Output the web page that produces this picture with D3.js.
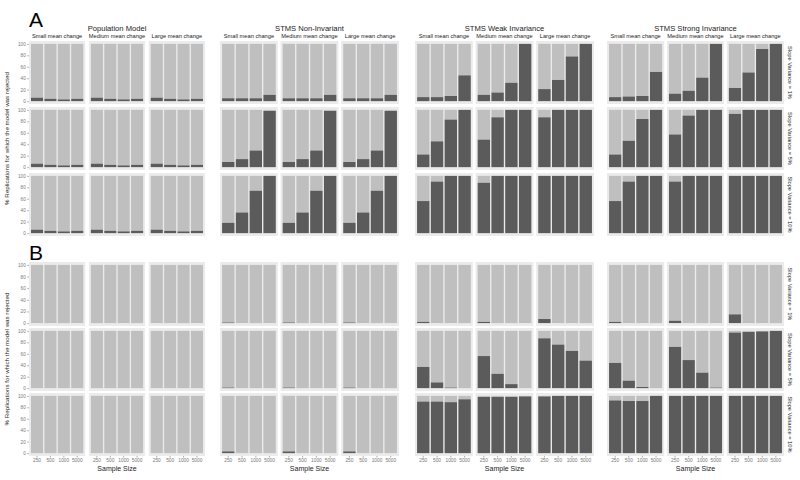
<!DOCTYPE html>
<html>
<head>
<meta charset="utf-8">
<script src="https://cdn.jsdelivr.net/npm/d3@7"></script>
<style>
  html, body { margin: 0; padding: 0; background: #fff; }
  svg { display: block; font-family: "Liberation Sans", Arial, sans-serif; }
</style>
</head>
<body>
<svg id="chart" width="800" height="480"></svg>
<script>
// ---------------- DATA ----------------
const models = ["Population Model", "STMS Non-Invariant", "STMS Weak Invariance", "STMS Strong Invariance"];
const meanChanges = ["Small mean change", "Medium mean change", "Large mean change"];
const slopeVars = ["Slope Variance = 1%", "Slope Variance = 5%", "Slope Variance = 10%"];
const sampleSizes = ["250", "500", "1000", "5000"];
const yTicks = [0, 20, 40, 60, 80, 100];
const panelLabels = ["A", "B"];

// % rejected: [slope variance row][mean change][sample size]
const popA = [
  [[6, 4, 3, 4], [6, 4, 3, 4], [6, 4, 3, 4]],
  [[6, 4, 3, 4], [6, 4, 3, 4], [6, 4, 3, 4]],
  [[6, 4, 3, 4], [6, 4, 3, 4], [6, 4, 3, 4]]
];
const nonInvA = [
  [[5, 5, 5, 11], [5, 5, 5, 11], [5, 5, 5, 11]],
  [[9, 14, 29, 98], [9, 14, 29, 98], [9, 14, 29, 98]],
  [[18, 36, 74, 100], [18, 36, 74, 100], [18, 36, 74, 100]]
];
const weakA = [
  [[7, 7, 9, 45], [11, 15, 32, 100], [21, 37, 78, 100]],
  [[22, 45, 83, 100], [48, 87, 100, 100], [87, 100, 100, 100]],
  [[56, 90, 100, 100], [88, 100, 100, 100], [100, 100, 100, 100]]
];
const strongA = [
  [[7, 8, 9, 51], [13, 18, 41, 100], [23, 50, 91, 100]],
  [[22, 46, 84, 100], [57, 90, 100, 100], [93, 100, 100, 100]],
  [[56, 90, 100, 100], [90, 100, 100, 100], [100, 100, 100, 100]]
];
const popB = [
  [[0, 0, 0, 0], [0, 0, 0, 0], [0, 0, 0, 0]],
  [[0, 0, 0, 0], [0, 0, 0, 0], [0, 0, 0, 0]],
  [[0, 0, 0, 0], [0, 0, 0, 0], [0, 0, 0, 0]]
];
const nonInvB = [
  [[1, 0, 0, 0], [1, 0, 0, 0], [1, 0, 0, 0]],
  [[1, 0, 0, 0], [1, 0, 0, 0], [1, 0, 0, 0]],
  [[3, 0, 0, 0], [3, 0, 0, 0], [3, 0, 0, 0]]
];
const weakB = [
  [[2, 0, 0, 0], [2, 0, 0, 0], [7, 0, 0, 0]],
  [[37, 10, 1, 0], [56, 25, 7, 0], [87, 76, 65, 48]],
  [[90, 90, 89, 94], [98, 98, 98, 99], [99, 100, 100, 100]]
];
const strongB = [
  [[2, 0, 0, 0], [4, 0, 0, 0], [15, 0, 0, 0]],
  [[44, 13, 2, 0], [72, 49, 27, 1], [97, 98, 99, 100]],
  [[92, 91, 91, 100], [100, 100, 100, 100], [100, 100, 100, 100]]
];
const panelData = [[popA, nonInvA, weakA, strongA], [popB, nonInvB, weakB, strongB]];

// ---------------- LAYOUT ----------------
const svg = d3.select("#chart");
const groupX = [[29, 205], [220, 399], [415, 594], [607, 784]];
const groupPad = [0.06, 0.045, 0.045, 0.045];
const panelRows = [
  [[41, 104], [107, 170], [173, 236]],
  [[262, 326], [328, 391], [393, 456]]
];
const colBg = "#ebebeb", colLight = "#bfbfbf", colDark = "#5b5b5b";

panelData.forEach((pd, p) => {
  const rows = panelRows[p];
  svg.append("text").attr("x", 29).attr("y", p === 0 ? 27 : 260)
    .attr("font-size", 21).attr("fill", "#000").text(panelLabels[p]);
  const cy = (rows[0][0] + rows[2][1]) / 2;
  svg.append("text").attr("transform", `translate(9,${cy}) rotate(-90)`)
    .attr("text-anchor", "middle").attr("font-size", 6.2).attr("fill", "#222")
    .text("% Replications for which the model was rejected");

  models.forEach((m, g) => {
    const xCell = d3.scaleBand().domain(meanChanges).range(groupX[g])
      .paddingInner(groupPad[g]).paddingOuter(0);
    const xBar = d3.scaleBand().domain(sampleSizes).range([0, xCell.bandwidth()])
      .paddingInner(0.1).paddingOuter(0.15);
    const gx = (groupX[g][0] + groupX[g][1]) / 2;

    if (p === 0) {
      svg.append("text").attr("x", gx).attr("y", 31).attr("text-anchor", "middle")
        .attr("font-size", 7.6).attr("fill", "#222").text(m);
      meanChanges.forEach(mc => {
        svg.append("text").attr("x", xCell(mc) + xCell.bandwidth() / 2).attr("y", 37.8)
          .attr("text-anchor", "middle").attr("font-size", 5.7).attr("fill", "#1a1a1a").text(mc);
      });
    }

    rows.forEach((r, ri) => {
      const y = d3.scaleLinear().domain([-5, 105]).range([r[1], r[0]]);
      meanChanges.forEach((mc, ci) => {
        const cx = xCell(mc);
        const cell = svg.append("g").attr("transform", `translate(${cx},0)`);
        cell.append("rect").attr("x", 0).attr("y", r[0]).attr("width", xCell.bandwidth())
          .attr("height", r[1] - r[0]).attr("fill", colBg);
        const vals = pd[g][ri][ci];
        sampleSizes.forEach((s, si) => {
          const v = vals[si];
          cell.append("rect").attr("x", xBar(s)).attr("width", xBar.bandwidth())
            .attr("y", y(100)).attr("height", y(v) - y(100)).attr("fill", colLight);
          cell.append("rect").attr("x", xBar(s)).attr("width", xBar.bandwidth())
            .attr("y", y(v)).attr("height", y(0) - y(v)).attr("fill", colDark);
        });
        if (p === 1 && ri === 2) {
          const ax = svg.append("g").attr("transform", `translate(${cx},${r[1]})`)
            .call(d3.axisBottom(xBar).tickSize(1.5).tickPadding(1.5));
          ax.select(".domain").remove();
          ax.selectAll("line").attr("stroke", "#555").attr("stroke-width", 0.5);
          ax.selectAll("text").attr("font-size", 4.8).attr("fill", "#777")
            .attr("font-family", "Liberation Sans, Arial, sans-serif");
        }
      });
      if (g === 0) {
        const ay = svg.append("g").attr("transform", `translate(${groupX[0][0]},0)`)
          .call(d3.axisLeft(y).tickValues(yTicks).tickSize(1.8).tickPadding(1.5));
        ay.select(".domain").remove();
        ay.selectAll("line").attr("stroke", "#666").attr("stroke-width", 0.5);
        ay.selectAll("text").attr("font-size", 4.6).attr("fill", "#777")
          .attr("font-family", "Liberation Sans, Arial, sans-serif");
      }
      if (g === 3) {
        svg.append("text").attr("transform", `translate(788,${(r[0] + r[1]) / 2}) rotate(90)`)
          .attr("text-anchor", "middle").attr("font-size", 5.7).attr("fill", "#1a1a1a")
          .text(slopeVars[ri]);
      }
    });

    if (p === 1) {
      svg.append("text").attr("x", gx).attr("y", 471).attr("text-anchor", "middle")
        .attr("font-size", 7).attr("fill", "#222").text("Sample Size");
    }
  });
});
</script>
</body>
</html>
